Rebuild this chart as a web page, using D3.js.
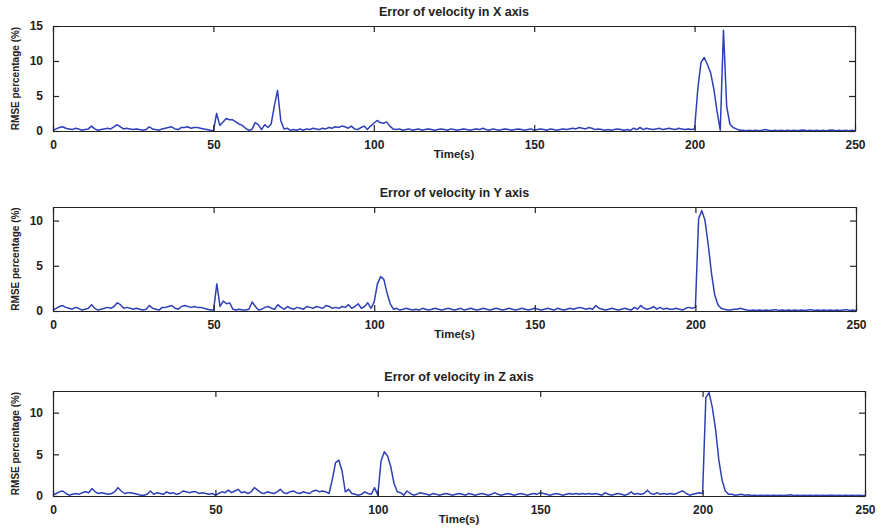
<!DOCTYPE html>
<html>
<head>
<meta charset="utf-8">
<script src="https://cdn.jsdelivr.net/npm/d3@7"></script>
<style>
  html, body { margin: 0; padding: 0; background: #fff; }
  svg { display: block; font-family: "Liberation Sans", Arial, sans-serif; }
</style>
</head>
<body>
<svg id="chart" width="880" height="530"></svg>
<script>
// Sampling instants (s), one sample per second
const timeSec = d3.range(0, 251, 1);

// RMSE percentage of the velocity error, X axis
const errX = [
  0.1, 0.3, 0.5, 0.6, 0.4, 0.3, 0.2, 0.4, 0.3, 0.1,
  0.2, 0.3, 0.7, 0.3, 0.1, 0.2, 0.3, 0.4, 0.3, 0.6,
  0.9, 0.6, 0.3, 0.4, 0.3, 0.2, 0.3, 0.2, 0.1, 0.2,
  0.6, 0.3, 0.2, 0.1, 0.3, 0.4, 0.5, 0.6, 0.3, 0.2,
  0.5, 0.5, 0.6, 0.4, 0.5, 0.5, 0.4, 0.3, 0.2, 0.1,
  0.0, 2.5, 0.8, 1.3, 1.8, 1.6, 1.6, 1.3, 1.0, 0.8,
  0.4, 0.1, 0.2, 1.2, 0.9, 0.2, 0.9, 0.5, 1.0, 3.6,
  5.8, 1.5, 0.3, 0.4, 0.1, 0.2, 0.1, 0.3, 0.1, 0.3,
  0.2, 0.4, 0.3, 0.2, 0.4, 0.3, 0.5, 0.4, 0.6, 0.5,
  0.7, 0.6, 0.4, 0.7, 0.3, 0.2, 0.5, 0.7, 0.2, 0.7,
  1.1, 1.5, 1.2, 1.1, 1.3, 0.7, 0.3, 0.2, 0.3, 0.1,
  0.2, 0.3, 0.1, 0.2, 0.3, 0.1, 0.2, 0.3, 0.2, 0.1,
  0.2, 0.3, 0.2, 0.1, 0.3, 0.2, 0.1, 0.2, 0.3, 0.2,
  0.1, 0.2, 0.3, 0.2, 0.4, 0.2, 0.1, 0.3, 0.2, 0.1,
  0.2, 0.3, 0.2, 0.1, 0.2, 0.3, 0.2, 0.1, 0.2, 0.3,
  0.1, 0.2, 0.3, 0.2, 0.1, 0.3, 0.2, 0.1, 0.2, 0.3,
  0.2, 0.3, 0.4, 0.3, 0.5, 0.4, 0.3, 0.5, 0.4, 0.2,
  0.3, 0.2, 0.1, 0.2, 0.1, 0.2, 0.3, 0.2, 0.1, 0.2,
  0.1, 0.4, 0.2, 0.5, 0.2, 0.4, 0.3, 0.2, 0.3, 0.4,
  0.2, 0.3, 0.4, 0.3, 0.2, 0.4, 0.3, 0.2, 0.3, 0.2,
  0.3, 6.0, 9.8, 10.5, 9.5, 8.3, 6.0, 2.8, 0.1, 14.4,
  3.5, 1.0, 0.5, 0.3, 0.1, 0.1, 0.05, 0.1, 0.05, 0.1,
  0.05, 0.1, 0.2, 0.1, 0.05, 0.1, 0.05, 0.1, 0.05, 0.1,
  0.05, 0.1, 0.05, 0.1, 0.15, 0.05, 0.1, 0.05, 0.1, 0.05,
  0.1, 0.05, 0.1, 0.15, 0.05, 0.1, 0.05, 0.1, 0.05, 0.1,
  0.05
];

// RMSE percentage of the velocity error, Y axis
const errY = [
  0.1, 0.3, 0.5, 0.6, 0.4, 0.3, 0.2, 0.4, 0.3, 0.1,
  0.2, 0.3, 0.7, 0.3, 0.1, 0.2, 0.3, 0.4, 0.3, 0.5,
  0.9, 0.7, 0.3, 0.4, 0.3, 0.2, 0.3, 0.2, 0.1, 0.2,
  0.6, 0.3, 0.2, 0.1, 0.4, 0.4, 0.5, 0.6, 0.3, 0.2,
  0.5, 0.6, 0.5, 0.4, 0.5, 0.4, 0.4, 0.3, 0.2, 0.1,
  0.1, 3.0, 0.5, 1.1, 0.8, 0.9, 0.2, 0.1, 0.2, 0.1,
  0.1, 0.2, 1.0, 0.5, 0.1, 0.2, 0.4, 0.5, 0.3, 0.2,
  0.7, 0.4, 0.2, 0.5, 0.3, 0.2, 0.4, 0.3, 0.2, 0.5,
  0.4, 0.3, 0.5, 0.4, 0.3, 0.6, 0.5, 0.3, 0.4, 0.3,
  0.5, 0.4, 0.7, 0.3, 0.5, 0.8, 0.3, 0.5, 0.9, 0.3,
  1.0, 3.0, 3.8, 3.5, 2.0, 0.8, 0.2, 0.3, 0.1, 0.2,
  0.3, 0.2, 0.1, 0.2, 0.1, 0.3, 0.2, 0.1, 0.2, 0.3,
  0.2, 0.1, 0.2, 0.3, 0.2, 0.1, 0.2, 0.3, 0.1, 0.2,
  0.3, 0.2, 0.1, 0.2, 0.3, 0.2, 0.1, 0.2, 0.3, 0.2,
  0.1, 0.2, 0.3, 0.2, 0.1, 0.2, 0.3, 0.2, 0.1, 0.2,
  0.3, 0.2, 0.1, 0.2, 0.3, 0.2, 0.1, 0.3, 0.2, 0.1,
  0.2, 0.3, 0.2, 0.3, 0.4, 0.3, 0.2, 0.3, 0.2, 0.6,
  0.3, 0.2, 0.1, 0.2, 0.3, 0.2, 0.1, 0.2, 0.3, 0.2,
  0.1, 0.4, 0.2, 0.6, 0.3, 0.2, 0.3, 0.5, 0.2, 0.4,
  0.2, 0.3, 0.2, 0.2, 0.3, 0.2, 0.1, 0.3, 0.4, 0.3,
  0.4, 10.2, 11.1, 10.0, 7.3, 4.2, 1.8, 0.7, 0.3, 0.2,
  0.1, 0.1, 0.2, 0.2, 0.3, 0.2, 0.1, 0.05, 0.1, 0.05,
  0.1, 0.05, 0.1, 0.05, 0.1, 0.15, 0.05, 0.1, 0.05, 0.1,
  0.05, 0.1, 0.05, 0.1, 0.05, 0.1, 0.15, 0.05, 0.1, 0.05,
  0.1, 0.05, 0.1, 0.05, 0.1, 0.05, 0.1, 0.15, 0.05, 0.1,
  0.05
];

// RMSE percentage of the velocity error, Z axis
const errZ = [
  0.1, 0.3, 0.5, 0.6, 0.3, 0.1, 0.2, 0.3, 0.2, 0.4,
  0.5, 0.4, 0.9, 0.5, 0.3, 0.4, 0.3, 0.2, 0.3, 0.5,
  1.0, 0.6, 0.3, 0.4, 0.4, 0.3, 0.2, 0.1, 0.1, 0.2,
  0.6, 0.2, 0.4, 0.3, 0.2, 0.5, 0.3, 0.4, 0.2, 0.3,
  0.6, 0.5, 0.4, 0.5, 0.5, 0.3, 0.4, 0.3, 0.2, 0.3,
  0.1, 0.3, 0.5, 0.4, 0.7, 0.4, 0.6, 0.8, 0.4, 0.5,
  0.3, 0.5, 1.0, 0.7, 0.4, 0.3, 0.5, 0.4, 0.3, 0.5,
  0.8, 0.4, 0.3, 0.5, 0.6, 0.4, 0.3, 0.5, 0.4, 0.3,
  0.6, 0.7, 0.5, 0.6, 0.5, 0.3, 2.0, 4.0, 4.3, 3.0,
  0.5, 0.8, 0.3, 0.2, 0.1, 0.2, 0.5, 0.3, 0.2, 1.0,
  0.1, 4.2, 5.3, 4.8, 3.5, 1.5, 0.5, 0.4, 0.1, 0.6,
  0.3, 0.1, 0.2, 0.4, 0.3, 0.2, 0.1, 0.3, 0.2, 0.1,
  0.2, 0.3, 0.2, 0.1, 0.2, 0.3, 0.2, 0.1, 0.3, 0.2,
  0.1, 0.2, 0.3, 0.2, 0.1, 0.2, 0.4, 0.2, 0.1, 0.2,
  0.3, 0.2, 0.1, 0.2, 0.3, 0.2, 0.1, 0.2, 0.3, 0.2,
  0.4, 0.3, 0.2, 0.1, 0.2, 0.3, 0.2, 0.1, 0.2, 0.3,
  0.2, 0.3, 0.2, 0.3, 0.2, 0.3, 0.2, 0.3, 0.2, 0.1,
  0.4, 0.2, 0.1, 0.2, 0.3, 0.2, 0.1, 0.2, 0.5, 0.2,
  0.3, 0.2, 0.3, 0.7, 0.3, 0.2, 0.4, 0.2, 0.3, 0.2,
  0.3, 0.2, 0.3, 0.5, 0.6, 0.3, 0.1, 0.2, 0.3, 0.4,
  0.3, 11.8, 12.4, 10.6, 8.0, 4.3, 1.9, 0.6, 0.2, 0.2,
  0.1, 0.15, 0.2, 0.1, 0.15, 0.05, 0.1, 0.05, 0.1, 0.05,
  0.1, 0.05, 0.1, 0.05, 0.1, 0.05, 0.1, 0.15, 0.05, 0.1,
  0.05, 0.1, 0.05, 0.1, 0.05, 0.1, 0.05, 0.1, 0.05, 0.1,
  0.1, 0.05, 0.1, 0.05, 0.1, 0.05, 0.1, 0.05, 0.1, 0.05,
  0.05
];

const panelTitles = ["Error of velocity in X axis", "Error of velocity in Y axis", "Error of velocity in Z axis"];
const xTickValues = [0, 50, 100, 150, 200, 250];
const yTickValuesX = [0, 5, 10, 15];
const yTickValuesY = [0, 5, 10];
const yTickValuesZ = [0, 5, 10];
const yLimits = [15, 11.5, 12.6];
const xLabel = "Time(s)";
const yLabel = "RMSE percentage (%)";

// Panel geometry (pixels)
const panels = [
  { series: errX, title: panelTitles[0], yMax: yLimits[0], yTicks: yTickValuesX, left: 53, right: 855, top: 26,  bottom: 131 },
  { series: errY, title: panelTitles[1], yMax: yLimits[1], yTicks: yTickValuesY, left: 53, right: 856, top: 207, bottom: 311 },
  { series: errZ, title: panelTitles[2], yMax: yLimits[2], yTicks: yTickValuesZ, left: 53, right: 865, top: 391, bottom: 496 }
];

const svg = d3.select("#chart");
const lineColor = "#2e40b8";
const axisColor = "#222";
const tickLen = 6;

panels.forEach(p => {
  const x = d3.scaleLinear().domain([0, 250]).range([p.left, p.right]);
  const y = d3.scaleLinear().domain([0, p.yMax]).range([p.bottom, p.top]);
  const g = svg.append("g");

  // data line
  const pts = timeSec.map((t, i) => [t, p.series[i]]);
  g.append("path")
    .datum(pts)
    .attr("fill", "none")
    .attr("stroke", lineColor)
    .attr("stroke-width", 1.5)
    .attr("stroke-linejoin", "round")
    .attr("d", d3.line().x(d => x(d[0])).y(d => y(d[1])));

  // box axes, ticks pointing inward; labels on bottom and left only
  const bottomAxis = d3.axisBottom(x).tickValues(xTickValues).tickSizeInner(-tickLen).tickSizeOuter(0).tickPadding(9).tickFormat(d3.format("d"));
  const leftAxis = d3.axisLeft(y).tickValues(p.yTicks).tickSizeInner(-tickLen).tickSizeOuter(0).tickPadding(10).tickFormat(d3.format("d"));
  const topAxis = d3.axisTop(x).tickValues(xTickValues).tickSizeInner(-tickLen).tickSizeOuter(0).tickFormat("");
  const rightAxis = d3.axisRight(y).tickValues(p.yTicks).tickSizeInner(-tickLen).tickSizeOuter(0).tickFormat("");

  const axes = [
    g.append("g").attr("transform", `translate(0,${p.bottom})`).call(bottomAxis),
    g.append("g").attr("transform", `translate(${p.left},0)`).call(leftAxis),
    g.append("g").attr("transform", `translate(0,${p.top})`).call(topAxis),
    g.append("g").attr("transform", `translate(${p.right},0)`).call(rightAxis)
  ];
  axes.forEach(a => {
    a.select(".domain").attr("stroke", axisColor).attr("stroke-width", 1.2);
    a.selectAll(".tick line").attr("stroke", axisColor).attr("stroke-width", 1.2);
    a.selectAll(".tick text")
      .attr("fill", "#222")
      .style("font-size", "12px")
      .style("font-weight", "bold")
      .style("font-family", "'Liberation Sans', Arial, sans-serif");
  });

  const cx = (p.left + p.right) / 2;
  // title
  g.append("text")
    .attr("x", cx).attr("y", p.top - 10)
    .attr("text-anchor", "middle")
    .style("font-size", "12.5px").style("font-weight", "bold").attr("fill", "#222")
    .text(p.title);

  // x-axis label
  g.append("text")
    .attr("x", cx).attr("y", p.bottom + 27)
    .attr("text-anchor", "middle")
    .style("font-size", "11.5px").style("font-weight", "bold").attr("fill", "#222")
    .text(xLabel);

  // y-axis label
  g.append("text")
    .attr("transform", `translate(19,${(p.top + p.bottom) / 2}) rotate(-90)`)
    .attr("text-anchor", "middle")
    .style("font-size", "10px").style("font-weight", "bold").attr("fill", "#222")
    .text(yLabel);
});
</script>
</body>
</html>
